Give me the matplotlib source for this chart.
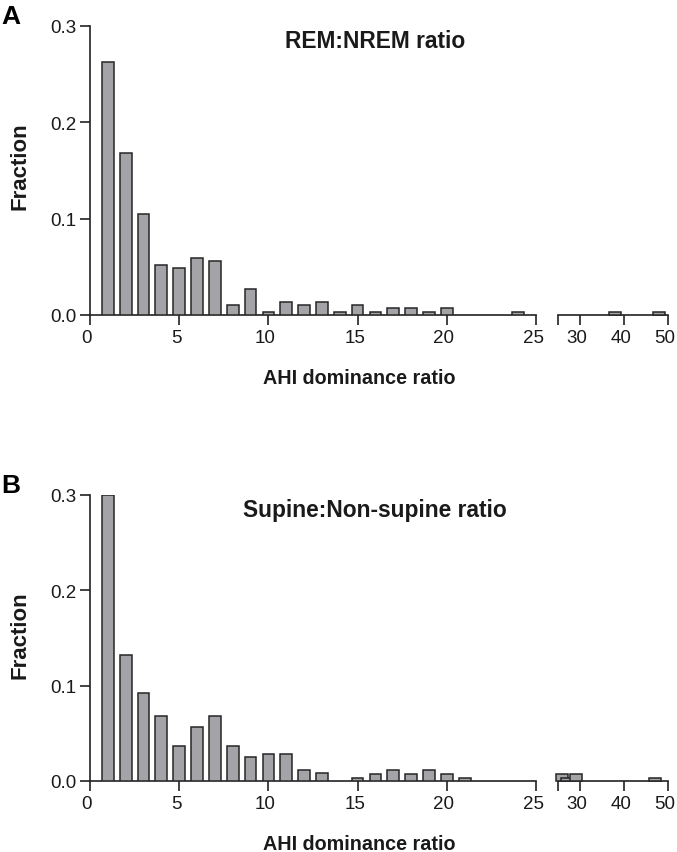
"""Histograms of AHI dominance ratio (REM:NREM and Supine:Non-supine) with broken x-axis."""
import matplotlib
matplotlib.use("Agg")
import matplotlib.pyplot as plt
from matplotlib.transforms import ScaledTranslation

plt.rcParams["font.family"] = ["Liberation Sans", "DejaVu Sans"]

# --- data ---------------------------------------------------------------
# Panel A: REM:NREM ratio
rem_x_left = [1, 2, 3, 4, 5, 6, 7, 8, 9, 10, 11, 12, 13, 14, 15, 16, 17, 18, 19, 20, 24]
rem_y_left = [0.263, 0.168, 0.105, 0.052, 0.049, 0.0595, 0.0557, 0.0104, 0.0273, 0.0035,
              0.0138, 0.0104, 0.0138, 0.0035, 0.0104, 0.0035, 0.0069, 0.0069, 0.0035,
              0.0069, 0.0035]
rem_x_right = [38, 48]
rem_y_right = [0.0035, 0.0035]

# Panel B: Supine:Non-supine ratio
sup_x_left = [1, 2, 3, 4, 5, 6, 7, 8, 9, 10, 11, 12, 13, 15, 16, 17, 18, 19, 20, 21]
sup_y_left = [0.300, 0.132, 0.092, 0.068, 0.0368, 0.0567, 0.068, 0.0368, 0.0249, 0.0284,
              0.0284, 0.0120, 0.0080, 0.0035, 0.0075, 0.0118, 0.0075, 0.0118, 0.0075,
              0.0035]
sup_x_right = [26, 27, 29, 47]
sup_y_right = [0.0075, 0.0035, 0.0075, 0.0035]

panels = [
    ("A", "REM:NREM ratio", rem_x_left, rem_y_left, rem_x_right, rem_y_right),
    ("B", "Supine:Non-supine ratio", sup_x_left, sup_y_left, sup_x_right, sup_y_right),
]

BAR_FC = "#a4a4a8"
BAR_EC = "#262626"
AX_C = "#222222"
TXT_C = "#1a1a1a"

fig = plt.figure(figsize=(6.77, 8.53), dpi=100)
W, H = 677, 853

# pixel boxes (top, bottom) of each panel
boxes = [(27, 316), (496, 782)]
# tick labels sit a little left of their ticks in the original
shift = ScaledTranslation(-3 / 100, 0, fig.dpi_scale_trans)

for (letter, title, xl, yl, xr, yr), (top, bot) in zip(panels, boxes):
    b = 1 - bot / H
    h = (bot - top) / H
    ax_l = fig.add_axes([90 / W, b, 446 / W, h])
    ax_r = fig.add_axes([558 / W, b, 110 / W, h])

    ax_l.bar(xl, yl, width=0.66, color=BAR_FC, edgecolor=BAR_EC, linewidth=1.1, zorder=3)
    ax_r.bar(xr, yr, width=2.7, color=BAR_FC, edgecolor=BAR_EC, linewidth=1.1,
             zorder=3, clip_on=False)

    for ax in (ax_l, ax_r):
        ax.set_ylim(0, 0.3)
        for s in ("top", "right"):
            ax.spines[s].set_visible(False)
        ax.spines["bottom"].set_color(AX_C)
        ax.spines["bottom"].set_linewidth(1.2)
        ax.tick_params(axis="x", direction="out", length=7, width=1.2, color=AX_C,
                       labelsize=13.5, pad=3, labelcolor=TXT_C)
        ax.patch.set_visible(False)

    ax_l.set_xlim(0, 25)
    ax_l.set_xticks([0, 5, 10, 15, 20, 25])
    ax_l.set_xticklabels(["0", "5", "10", "15", "20", "25"])
    ax_l.set_yticks([0, 0.1, 0.2, 0.3])
    ax_l.set_yticklabels(["0.0", "0.1", "0.2", "0.3"])
    ax_l.spines["left"].set_color(AX_C)
    ax_l.spines["left"].set_linewidth(1.2)
    ax_l.tick_params(axis="y", direction="out", length=7, width=1.2, color=AX_C,
                     labelsize=13.5, pad=3, labelcolor=TXT_C)

    ax_r.set_xlim(25, 50)
    ax_r.set_xticks([25, 30, 40, 50])
    ax_r.set_xticklabels(["", "30", "40", "50"])
    ax_r.spines["left"].set_visible(False)
    ax_r.set_yticks([])

    for ax in (ax_l, ax_r):
        for lab in ax.get_xticklabels():
            lab.set_transform(lab.get_transform() + shift)

    fig.text(1 / W, 1 - (top - 10) / H, letter, fontsize=19, fontweight="bold",
             color="black", ha="left", va="center")
    fig.text(375 / W, 1 - (top + 14) / H, title, fontsize=16.4, fontweight="bold",
             color=TXT_C, ha="center", va="center")
    fig.text(20 / W, 1 - (top + 139) / H, "Fraction", fontsize=16, fontweight="bold",
             color=TXT_C, rotation=90, ha="center", va="center")
    fig.text(359 / W, 1 - (bot + 63) / H, "AHI dominance ratio", fontsize=14.2,
             fontweight="bold", color=TXT_C, ha="center", va="center")

fig.savefig("out.png", dpi=100)
